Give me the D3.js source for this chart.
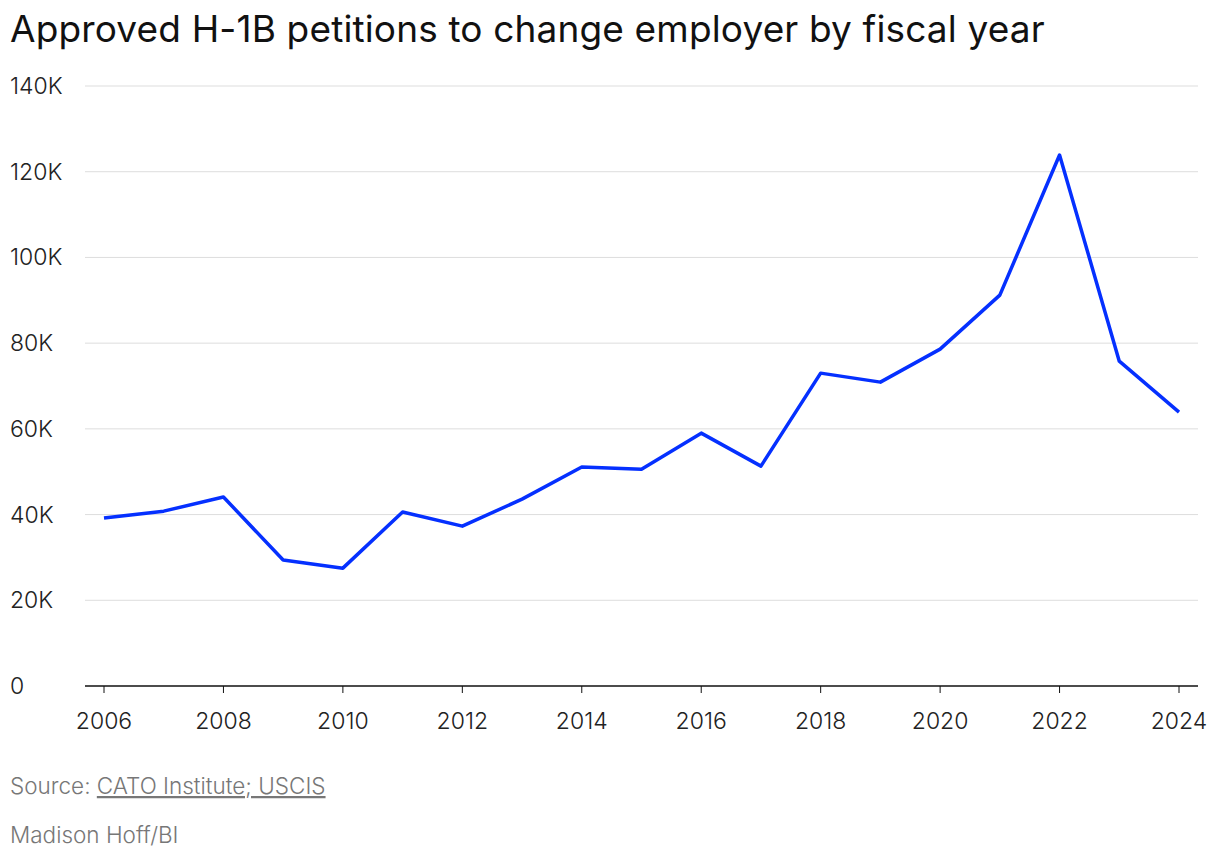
<!DOCTYPE html>
<html><head><meta charset="utf-8">
<script src="https://cdn.jsdelivr.net/npm/d3@7"></script>
<style>body{margin:0;background:#fff;font-family:Inter,"Noto Sans",sans-serif}</style>
</head><body><svg id="c" width="1220" height="860"></svg>
<script>
const years = [2006,2007,2008,2009,2010,2011,2012,2013,2014,2015,2016,2017,2018,2019,2020,2021,2022,2023,2024]
const approved = [39.2,40.8,44.1,29.4,27.5,40.6,37.3,43.6,51.1,50.6,59.0,51.3,73.0,70.9,78.6,91.2,123.9,75.8,63.9]
const yTicks = [0,20,40,60,80,100,120,140]
const xTicks = [2006,2008,2010,2012,2014,2016,2018,2020,2022,2024]

const svg = d3.select('#c')
const x = d3.scaleLinear().domain([2006,2024]).range([104,1179])
const y = d3.scaleLinear().domain([0,140]).range([686,86])

svg.append('text').attr('x',10).attr('y',42).attr('font-size',37).attr('letter-spacing',0.15)
    .attr('fill','#111').text('Approved H-1B petitions to change employer by fiscal year')

svg.append('g').selectAll('line').data(yTicks.slice(1)).enter().append('line')
    .attr('x1',85).attr('x2',1198).attr('y1',d=>y(d)).attr('y2',d=>y(d))
    .attr('stroke','#ddd').attr('stroke-width',1)
svg.append('g').selectAll('text').data(yTicks).enter().append('text')
    .attr('x',10).attr('y',d=>y(d)+8).attr('font-size',23).attr('font-weight',300).attr('fill','#222')
    .text(d=>d===0?'0':d+'K')

svg.append('line').attr('x1',85).attr('x2',1198).attr('y1',686).attr('y2',686).attr('stroke','#111').attr('stroke-width',1.5)
const xa = svg.append('g')
xa.selectAll('line').data(xTicks).enter().append('line')
    .attr('x1',d=>x(d)).attr('x2',d=>x(d)).attr('y1',686).attr('y2',693).attr('stroke','#111')
xa.selectAll('text').data(xTicks).enter().append('text')
    .attr('x',d=>x(d)).attr('y',729).attr('text-anchor','middle').attr('font-size',23).attr('font-weight',300).attr('fill','#222').text(d=>d)

svg.append('path').datum(years.map((yr,i)=>[yr,approved[i]]))
    .attr('d',d3.line().x(d=>x(d[0])).y(d=>y(d[1])))
    .attr('fill','none').attr('stroke','#0530ff').attr('stroke-width',3.5).attr('stroke-linejoin','round')

const src = svg.append('text').attr('x',10).attr('y',794).attr('font-size',22.5).attr('font-weight',300).attr('fill','#777')
src.append('tspan').text('Source: ')
src.append('tspan').attr('text-decoration','underline').text('CATO Institute; USCIS')
svg.append('text').attr('x',10).attr('y',843).attr('font-size',22.5).attr('font-weight',300).attr('fill','#777').text('Madison Hoff/BI')
</script></body></html>
